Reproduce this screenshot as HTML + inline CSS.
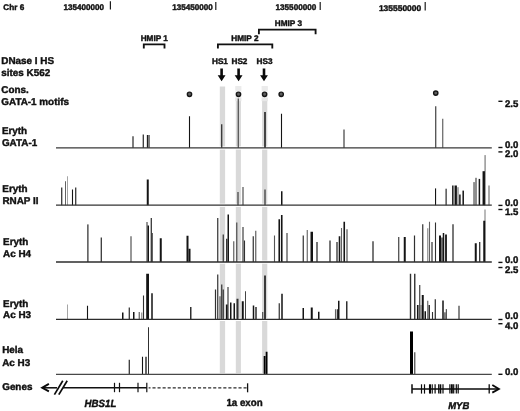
<!DOCTYPE html>
<html><head><meta charset="utf-8"><title>Figure</title>
<style>
html,body{margin:0;padding:0;background:#fff;}
body{width:520px;height:411px;overflow:hidden;font-family:"Liberation Sans",sans-serif;}
svg{display:block;filter:grayscale(1);}
text{text-rendering:geometricPrecision;}
</style></head><body>
<svg width="520" height="411" viewBox="0 0 520 411">
<rect width="520" height="411" fill="#fff"/>
<rect x="219.8" y="86.5" width="5.30" height="286.70" fill="#d9d9d9"/>
<rect x="219.3" y="146.4" width="6.30" height="3.2" fill="#fff"/>
<rect x="219.3" y="203.7" width="6.30" height="3.2" fill="#fff"/>
<rect x="219.3" y="260.5" width="6.30" height="3.2" fill="#fff"/>
<rect x="219.3" y="317.8" width="6.30" height="3.2" fill="#fff"/>
<rect x="235.8" y="86.5" width="5.10" height="286.70" fill="#d9d9d9"/>
<rect x="235.3" y="86.0" width="6.10" height="4.6" fill="#ebebeb"/>
<rect x="235.3" y="90.6" width="6.10" height="7.2" fill="#f6f6f6"/>
<rect x="235.3" y="97.8" width="6.10" height="3.4" fill="#e7e7e7"/>
<rect x="235.3" y="146.4" width="6.10" height="3.2" fill="#fff"/>
<rect x="235.3" y="203.7" width="6.10" height="3.2" fill="#fff"/>
<rect x="235.3" y="260.5" width="6.10" height="3.2" fill="#fff"/>
<rect x="235.3" y="317.8" width="6.10" height="3.2" fill="#fff"/>
<rect x="262.1" y="86.5" width="5.20" height="286.70" fill="#d9d9d9"/>
<rect x="261.6" y="86.0" width="6.20" height="4.6" fill="#ebebeb"/>
<rect x="261.6" y="90.6" width="6.20" height="7.2" fill="#f6f6f6"/>
<rect x="261.6" y="97.8" width="6.20" height="3.4" fill="#e7e7e7"/>
<rect x="261.6" y="146.4" width="6.20" height="3.2" fill="#fff"/>
<rect x="261.6" y="203.7" width="6.20" height="3.2" fill="#fff"/>
<rect x="261.6" y="260.5" width="6.20" height="3.2" fill="#fff"/>
<rect x="261.6" y="317.8" width="6.20" height="3.2" fill="#fff"/>
<line x1="110.4" y1="1.2" x2="110.4" y2="9.5" stroke="#1c1c1c" stroke-width="1.2"/>
<line x1="215.8" y1="2" x2="215.8" y2="10" stroke="#1c1c1c" stroke-width="1.2"/>
<line x1="320.2" y1="2" x2="320.2" y2="10" stroke="#1c1c1c" stroke-width="1.2"/>
<line x1="425.2" y1="2" x2="425.2" y2="10.5" stroke="#1c1c1c" stroke-width="1.2"/>
<text x="63.6" y="9.7" font-family="Liberation Sans, sans-serif" font-weight="bold" stroke="#111" stroke-width="0.42" stroke-linejoin="round" font-size="8.2" fill="#111" textLength="40.4" lengthAdjust="spacingAndGlyphs">135400000</text>
<text x="172.3" y="10.4" font-family="Liberation Sans, sans-serif" font-weight="bold" stroke="#111" stroke-width="0.42" stroke-linejoin="round" font-size="8.2" fill="#111" textLength="40.5" lengthAdjust="spacingAndGlyphs">135450000</text>
<text x="275.5" y="10.3" font-family="Liberation Sans, sans-serif" font-weight="bold" stroke="#111" stroke-width="0.42" stroke-linejoin="round" font-size="8.2" fill="#111" textLength="40.8" lengthAdjust="spacingAndGlyphs">135500000</text>
<text x="378.9" y="10.7" font-family="Liberation Sans, sans-serif" font-weight="bold" stroke="#111" stroke-width="0.42" stroke-linejoin="round" font-size="8.2" fill="#111" textLength="42.3" lengthAdjust="spacingAndGlyphs">135550000</text>
<text x="3.3" y="9.8" font-family="Liberation Sans, sans-serif" font-weight="bold" stroke="#111" stroke-width="0.42" stroke-linejoin="round" font-size="8.2" fill="#111">Chr 6</text>
<path d="M143.8 48.4 V44.4 H164.5 V48.4" fill="none" stroke="#111" stroke-width="1.85"/>
<path d="M217.9 48.4 V44.4 H272.3 V48.4" fill="none" stroke="#111" stroke-width="1.85"/>
<path d="M258.9 34.2 V29.6 H315.6 V34.2" fill="none" stroke="#111" stroke-width="1.85"/>
<text x="140.7" y="40.7" font-family="Liberation Sans, sans-serif" font-weight="bold" stroke="#111" stroke-width="0.42" stroke-linejoin="round" font-size="8.2" fill="#111">HMIP 1</text>
<text x="231.3" y="40.5" font-family="Liberation Sans, sans-serif" font-weight="bold" stroke="#111" stroke-width="0.42" stroke-linejoin="round" font-size="8.2" fill="#111">HMIP 2</text>
<text x="274.8" y="25.6" font-family="Liberation Sans, sans-serif" font-weight="bold" stroke="#111" stroke-width="0.42" stroke-linejoin="round" font-size="8.2" fill="#111">HMIP 3</text>
<text x="212" y="63.6" font-family="Liberation Sans, sans-serif" font-weight="bold" stroke="#111" stroke-width="0.42" stroke-linejoin="round" font-size="8.2" fill="#111">HS1</text>
<text x="231.5" y="63.6" font-family="Liberation Sans, sans-serif" font-weight="bold" stroke="#111" stroke-width="0.42" stroke-linejoin="round" font-size="8.2" fill="#111">HS2</text>
<text x="256.6" y="64.3" font-family="Liberation Sans, sans-serif" font-weight="bold" stroke="#111" stroke-width="0.42" stroke-linejoin="round" font-size="8.2" fill="#111">HS3</text>
<path d="M220.29999999999998 68.6 H222.9 V75.2 H225.5 L221.6 81.2 L217.7 75.2 H220.29999999999998 Z" fill="#0a0a0a"/>
<path d="M237.29999999999998 68.6 H239.9 V75.2 H242.5 L238.6 81.2 L234.7 75.2 H237.29999999999998 Z" fill="#0a0a0a"/>
<path d="M262.7 68.6 H265.3 V75.2 H267.9 L264.0 81.2 L260.1 75.2 H262.7 Z" fill="#0a0a0a"/>
<text transform="translate(1.3,64) scale(1,1)" font-family="Liberation Sans, sans-serif" font-weight="bold" stroke="#111" stroke-width="0.42" stroke-linejoin="round" font-size="9.9" fill="#111">DNase I HS</text>
<text transform="translate(1.3,75.6) scale(1,1)" font-family="Liberation Sans, sans-serif" font-weight="bold" stroke="#111" stroke-width="0.42" stroke-linejoin="round" font-size="9.9" fill="#111">sites K562</text>
<text transform="translate(1.3,93) scale(1,1)" font-family="Liberation Sans, sans-serif" font-weight="bold" stroke="#111" stroke-width="0.42" stroke-linejoin="round" font-size="9.9" fill="#111">Cons.</text>
<text transform="translate(1.3,105) scale(1,1)" font-family="Liberation Sans, sans-serif" font-weight="bold" stroke="#111" stroke-width="0.42" stroke-linejoin="round" font-size="9.9" fill="#111">GATA-1 motifs</text>
<text transform="translate(1.9,133.8) scale(1,1)" font-family="Liberation Sans, sans-serif" font-weight="bold" stroke="#111" stroke-width="0.42" stroke-linejoin="round" font-size="9.9" fill="#111">Eryth</text>
<text transform="translate(1.9,145.6) scale(1,1)" font-family="Liberation Sans, sans-serif" font-weight="bold" stroke="#111" stroke-width="0.42" stroke-linejoin="round" font-size="9.9" fill="#111">GATA-1</text>
<text transform="translate(2.3,191.5) scale(1,1)" font-family="Liberation Sans, sans-serif" font-weight="bold" stroke="#111" stroke-width="0.42" stroke-linejoin="round" font-size="9.9" fill="#111">Eryth</text>
<text transform="translate(2.4,203.8) scale(1,1)" font-family="Liberation Sans, sans-serif" font-weight="bold" stroke="#111" stroke-width="0.42" stroke-linejoin="round" font-size="9.9" fill="#111">RNAP II</text>
<text transform="translate(3.1,245) scale(1,1)" font-family="Liberation Sans, sans-serif" font-weight="bold" stroke="#111" stroke-width="0.42" stroke-linejoin="round" font-size="9.9" fill="#111">Eryth</text>
<text transform="translate(3.1,257) scale(1,1)" font-family="Liberation Sans, sans-serif" font-weight="bold" stroke="#111" stroke-width="0.42" stroke-linejoin="round" font-size="9.9" fill="#111">Ac H4</text>
<text transform="translate(3.1,306.8) scale(1,1)" font-family="Liberation Sans, sans-serif" font-weight="bold" stroke="#111" stroke-width="0.42" stroke-linejoin="round" font-size="9.9" fill="#111">Eryth</text>
<text transform="translate(3.1,318.4) scale(1,1)" font-family="Liberation Sans, sans-serif" font-weight="bold" stroke="#111" stroke-width="0.42" stroke-linejoin="round" font-size="9.9" fill="#111">Ac H3</text>
<text transform="translate(2.2,353.4) scale(1,1)" font-family="Liberation Sans, sans-serif" font-weight="bold" stroke="#111" stroke-width="0.42" stroke-linejoin="round" font-size="9.9" fill="#111">Hela</text>
<text transform="translate(2.2,366) scale(1,1)" font-family="Liberation Sans, sans-serif" font-weight="bold" stroke="#111" stroke-width="0.42" stroke-linejoin="round" font-size="9.9" fill="#111">Ac H3</text>
<text transform="translate(2.2,389.8) scale(1,1)" font-family="Liberation Sans, sans-serif" font-weight="bold" stroke="#111" stroke-width="0.42" stroke-linejoin="round" font-size="9.9" fill="#111">Genes</text>
<rect x="132.45" y="136.25" width="1.1" height="11.65" fill="#141414"/>
<rect x="142.70" y="134.5" width="1.1" height="13.40" fill="#141414"/>
<rect x="146.85" y="135" width="1.1" height="12.90" fill="#141414"/>
<rect x="148.45" y="135" width="1.1" height="12.90" fill="#141414"/>
<rect x="188.95" y="116.25" width="1.1" height="31.65" fill="#141414"/>
<rect x="221.20" y="124.25" width="1.1" height="23.65" fill="#141414"/>
<rect x="237.65" y="98.5" width="1.3" height="49.40" fill="#555"/>
<rect x="264.25" y="112" width="1.5" height="35.90" fill="#141414"/>
<rect x="280.95" y="113.75" width="1.1" height="34.15" fill="#141414"/>
<rect x="343.45" y="129.5" width="1.1" height="18.40" fill="#303030"/>
<rect x="435.20" y="106.25" width="1.1" height="41.65" fill="#303030"/>
<rect x="442.20" y="118.75" width="1.1" height="29.15" fill="#555"/>
<line x1="56" y1="147.9" x2="491.8" y2="147.9" stroke="#383838" stroke-width="1.35"/>
<rect x="61.20" y="187.5" width="1.1" height="17.70" fill="#141414"/>
<rect x="65.00" y="181.25" width="1" height="23.95" fill="#626262"/>
<rect x="67.10" y="176.25" width="0.8" height="28.95" fill="#8e8e8e"/>
<rect x="71.95" y="189.5" width="1.1" height="15.70" fill="#141414"/>
<rect x="75.20" y="187.5" width="1.1" height="17.70" fill="#141414"/>
<rect x="146.75" y="179.5" width="2" height="25.70" fill="#141414"/>
<rect x="237.45" y="192" width="1.1" height="13.20" fill="#303030"/>
<rect x="242.50" y="187" width="1.0" height="18.20" fill="#303030"/>
<rect x="264.40" y="189.5" width="1.2" height="15.70" fill="#303030"/>
<rect x="281.00" y="191.25" width="1.5" height="13.95" fill="#141414"/>
<rect x="435.00" y="188.4" width="1.1" height="16.80" fill="#141414"/>
<rect x="445.55" y="188.7" width="1.1" height="16.50" fill="#141414"/>
<rect x="452.10" y="185.5" width="1" height="19.70" fill="#141414"/>
<rect x="453.20" y="185.5" width="1.4" height="19.70" fill="#626262"/>
<rect x="454.90" y="185.5" width="2" height="19.70" fill="#141414"/>
<rect x="457.50" y="187.2" width="1" height="18.00" fill="#626262"/>
<rect x="459.15" y="194.5" width="1.5" height="10.70" fill="#141414"/>
<rect x="462.45" y="190.6" width="1.5" height="14.60" fill="#141414"/>
<rect x="473.10" y="182.1" width="2" height="23.10" fill="#8e8e8e"/>
<rect x="475.30" y="177.8" width="1.4" height="27.40" fill="#626262"/>
<rect x="478.65" y="178.9" width="1.5" height="26.30" fill="#141414"/>
<rect x="484.40" y="155.1" width="1.4" height="50.10" fill="#8e8e8e"/>
<rect x="482.55" y="171.2" width="2.4" height="34.00" fill="#141414"/>
<rect x="488.25" y="185.5" width="1.5" height="19.70" fill="#8e8e8e"/>
<line x1="56" y1="205.2" x2="491.8" y2="205.2" stroke="#333" stroke-width="1.25"/>
<rect x="87.35" y="224.4" width="1.1" height="37.60" fill="#141414"/>
<rect x="100.70" y="237.5" width="1.1" height="24.50" fill="#141414"/>
<rect x="130.35" y="236.25" width="1.3" height="25.75" fill="#626262"/>
<rect x="146.50" y="222" width="1" height="40.00" fill="#303030"/>
<rect x="147.50" y="225.5" width="1.5" height="36.50" fill="#141414"/>
<rect x="150.70" y="218" width="1.1" height="44.00" fill="#141414"/>
<rect x="151.75" y="233" width="1" height="29.00" fill="#303030"/>
<rect x="159.75" y="238.25" width="2" height="23.75" fill="#141414"/>
<rect x="186.50" y="235.75" width="2" height="26.25" fill="#141414"/>
<rect x="188.50" y="248.75" width="2" height="13.25" fill="#141414"/>
<rect x="217.15" y="218" width="1.2" height="44.00" fill="#303030"/>
<rect x="222.65" y="234.5" width="1.2" height="27.50" fill="#303030"/>
<rect x="226.15" y="238.75" width="1.2" height="23.25" fill="#141414"/>
<rect x="227.50" y="214.5" width="1.5" height="47.50" fill="#141414"/>
<rect x="233.15" y="241.25" width="1.2" height="20.75" fill="#626262"/>
<rect x="236.10" y="222.5" width="1.3" height="39.50" fill="#555"/>
<rect x="242.45" y="227" width="1.1" height="35.00" fill="#303030"/>
<rect x="243.95" y="240.5" width="1.1" height="21.50" fill="#303030"/>
<rect x="252.65" y="236.25" width="1.2" height="25.75" fill="#303030"/>
<rect x="255.15" y="230.75" width="1.2" height="31.25" fill="#626262"/>
<rect x="273.95" y="235.5" width="1.1" height="26.50" fill="#555"/>
<rect x="278.45" y="219.25" width="1.6" height="42.75" fill="#141414"/>
<rect x="280.95" y="215" width="1.6" height="47.00" fill="#141414"/>
<rect x="286.35" y="233" width="1.3" height="29.00" fill="#555"/>
<rect x="302.65" y="235.5" width="1.2" height="26.50" fill="#303030"/>
<rect x="306.70" y="230" width="1.1" height="32.00" fill="#626262"/>
<rect x="310.50" y="231.75" width="2.5" height="30.25" fill="#141414"/>
<rect x="316.35" y="242" width="1.3" height="20.00" fill="#303030"/>
<rect x="329.35" y="240.5" width="1.3" height="21.50" fill="#303030"/>
<rect x="336.35" y="242" width="1.3" height="20.00" fill="#303030"/>
<rect x="338.70" y="236.25" width="1.6" height="25.75" fill="#141414"/>
<rect x="340.95" y="228" width="1.1" height="34.00" fill="#626262"/>
<rect x="343.45" y="221.75" width="1.6" height="40.25" fill="#141414"/>
<rect x="346.35" y="229.25" width="1.3" height="32.75" fill="#626262"/>
<rect x="372.35" y="241.25" width="1.3" height="20.75" fill="#303030"/>
<rect x="398.20" y="237" width="1.1" height="25.00" fill="#303030"/>
<rect x="403.75" y="237" width="2" height="25.00" fill="#141414"/>
<rect x="413.90" y="235.5" width="1.2" height="26.50" fill="#303030"/>
<rect x="422.15" y="224.25" width="1.2" height="37.75" fill="#303030"/>
<rect x="427.15" y="228.25" width="1.2" height="33.75" fill="#8e8e8e"/>
<rect x="428.95" y="221.75" width="1.1" height="40.25" fill="#626262"/>
<rect x="431.40" y="242" width="1.2" height="20.00" fill="#303030"/>
<rect x="434.95" y="222.5" width="1.1" height="39.50" fill="#303030"/>
<rect x="439.00" y="235.5" width="2" height="26.50" fill="#141414"/>
<rect x="441.40" y="237.5" width="1.2" height="24.50" fill="#141414"/>
<rect x="442.75" y="233" width="1.5" height="29.00" fill="#141414"/>
<rect x="445.10" y="234.5" width="1.8" height="27.50" fill="#141414"/>
<rect x="452.35" y="224.25" width="1.3" height="37.75" fill="#303030"/>
<rect x="474.75" y="243.25" width="2" height="18.75" fill="#141414"/>
<rect x="479.05" y="242" width="1.3" height="20.00" fill="#303030"/>
<rect x="484.40" y="209.5" width="1.2" height="52.50" fill="#8e8e8e"/>
<rect x="483.25" y="220.75" width="2" height="41.25" fill="#141414"/>
<line x1="56" y1="262.0" x2="491.8" y2="262.0" stroke="#2c2c2c" stroke-width="1.3"/>
<rect x="67.10" y="304.5" width="0.8" height="14.80" fill="#8e8e8e"/>
<rect x="86.95" y="305.75" width="1.1" height="13.55" fill="#141414"/>
<rect x="122.00" y="312.5" width="1.5" height="6.80" fill="#141414"/>
<rect x="128.70" y="307.5" width="1.1" height="11.80" fill="#141414"/>
<rect x="133.00" y="312" width="1.5" height="7.30" fill="#141414"/>
<rect x="138.65" y="312" width="1.2" height="7.30" fill="#626262"/>
<rect x="141.15" y="312.5" width="1.2" height="6.80" fill="#8e8e8e"/>
<rect x="142.95" y="295.5" width="1.1" height="23.80" fill="#303030"/>
<rect x="146.20" y="273.75" width="2.8" height="45.55" fill="#141414"/>
<rect x="151.25" y="293.25" width="1.5" height="26.05" fill="#141414"/>
<rect x="190.00" y="307" width="1.5" height="12.30" fill="#303030"/>
<rect x="214.90" y="289.5" width="1.2" height="29.80" fill="#303030"/>
<rect x="217.15" y="274.5" width="1.2" height="44.80" fill="#303030"/>
<rect x="219.40" y="296.25" width="1.2" height="23.05" fill="#555"/>
<rect x="221.15" y="284.5" width="1.2" height="34.80" fill="#303030"/>
<rect x="222.65" y="289.5" width="1.2" height="29.80" fill="#303030"/>
<rect x="225.85" y="304.5" width="1.8" height="14.80" fill="#141414"/>
<rect x="227.45" y="287" width="1.1" height="32.30" fill="#303030"/>
<rect x="230.00" y="302.5" width="1.5" height="16.80" fill="#141414"/>
<rect x="233.50" y="303.25" width="1.5" height="16.05" fill="#141414"/>
<rect x="236.50" y="298.75" width="2" height="20.55" fill="#303030"/>
<rect x="241.75" y="301.25" width="2" height="18.05" fill="#141414"/>
<rect x="245.05" y="291.25" width="0.9" height="28.05" fill="#303030"/>
<rect x="252.75" y="305.5" width="1.5" height="13.80" fill="#141414"/>
<rect x="255.25" y="307" width="1.5" height="12.30" fill="#303030"/>
<rect x="262.25" y="312" width="1" height="7.30" fill="#303030"/>
<rect x="264.20" y="275.5" width="1.6" height="43.80" fill="#141414"/>
<rect x="278.65" y="303.25" width="1.2" height="16.05" fill="#303030"/>
<rect x="281.25" y="293.75" width="1.5" height="25.55" fill="#141414"/>
<rect x="302.50" y="308" width="1.5" height="11.30" fill="#141414"/>
<rect x="310.75" y="307.5" width="2" height="11.80" fill="#141414"/>
<rect x="318.00" y="311.75" width="1.5" height="7.55" fill="#141414"/>
<rect x="334.95" y="309.25" width="1.1" height="10.05" fill="#626262"/>
<rect x="336.75" y="309.25" width="1.5" height="10.05" fill="#303030"/>
<rect x="338.00" y="300.75" width="1.5" height="18.55" fill="#141414"/>
<rect x="346.00" y="301.25" width="1.5" height="18.05" fill="#303030"/>
<rect x="409.80" y="273.75" width="1.4" height="45.55" fill="#303030"/>
<rect x="414.05" y="273.75" width="1.4" height="45.55" fill="#303030"/>
<rect x="416.95" y="305" width="1.6" height="14.30" fill="#141414"/>
<rect x="419.20" y="285" width="1.1" height="34.30" fill="#303030"/>
<rect x="420.50" y="305" width="1" height="14.30" fill="#626262"/>
<rect x="421.75" y="295" width="2" height="24.30" fill="#141414"/>
<rect x="424.50" y="311.25" width="1.5" height="8.05" fill="#141414"/>
<rect x="427.20" y="300.75" width="1.1" height="18.55" fill="#626262"/>
<rect x="428.50" y="305" width="1.5" height="14.30" fill="#303030"/>
<rect x="431.95" y="312" width="1.1" height="7.30" fill="#303030"/>
<rect x="434.70" y="299.25" width="1.1" height="20.05" fill="#141414"/>
<rect x="442.25" y="300.5" width="1.5" height="18.80" fill="#141414"/>
<rect x="444.45" y="312.3" width="1.0" height="7.00" fill="#141414"/>
<rect x="445.80" y="309.1" width="1.0" height="10.20" fill="#303030"/>
<rect x="458.25" y="305.75" width="1.5" height="13.55" fill="#626262"/>
<line x1="56" y1="319.3" x2="491.8" y2="319.3" stroke="#2c2c2c" stroke-width="1.3"/>
<rect x="128.70" y="359.75" width="1.1" height="14.65" fill="#141414"/>
<rect x="141.95" y="356.75" width="1.1" height="17.65" fill="#141414"/>
<rect x="145.35" y="356.75" width="1.3" height="17.65" fill="#141414"/>
<rect x="148.00" y="327.25" width="1" height="47.15" fill="#303030"/>
<rect x="263.70" y="356" width="1.8" height="18.40" fill="#000"/>
<rect x="265.70" y="351.75" width="1.8" height="22.65" fill="#000"/>
<rect x="410.00" y="331.5" width="3" height="42.90" fill="#000"/>
<rect x="414.10" y="352.25" width="1.3" height="22.15" fill="#555"/>
<line x1="56" y1="374.4" x2="491.8" y2="374.4" stroke="#484848" stroke-width="1.2"/>
<circle cx="189.5" cy="94.3" r="2.15" fill="#5e5e5e" stroke="#161616" stroke-width="1.4"/>
<circle cx="238.5" cy="94.3" r="2.15" fill="#5e5e5e" stroke="#161616" stroke-width="1.4"/>
<circle cx="264.6" cy="94.3" r="2.15" fill="#5e5e5e" stroke="#161616" stroke-width="1.4"/>
<circle cx="281.2" cy="94.3" r="2.15" fill="#5e5e5e" stroke="#161616" stroke-width="1.4"/>
<circle cx="435.75" cy="93.1" r="2.15" fill="#5e5e5e" stroke="#161616" stroke-width="1.4"/>
<text x="505" y="106.8" font-family="Liberation Sans, sans-serif" font-weight="bold" stroke="#111" stroke-width="0.42" stroke-linejoin="round" font-size="9.6" fill="#111">2.5</text>
<line x1="498.4" y1="101.3" x2="502.5" y2="101.3" stroke="#111" stroke-width="1.4"/>
<text x="505" y="148" font-family="Liberation Sans, sans-serif" font-weight="bold" stroke="#111" stroke-width="0.42" stroke-linejoin="round" font-size="9.6" fill="#111">0.0</text>
<line x1="498.4" y1="147.5" x2="502.5" y2="147.5" stroke="#111" stroke-width="1.4"/>
<text x="505" y="157" font-family="Liberation Sans, sans-serif" font-weight="bold" stroke="#111" stroke-width="0.42" stroke-linejoin="round" font-size="9.6" fill="#111">2.0</text>
<line x1="498.4" y1="151.9" x2="502.5" y2="151.9" stroke="#111" stroke-width="1.4"/>
<text x="505" y="205.6" font-family="Liberation Sans, sans-serif" font-weight="bold" stroke="#111" stroke-width="0.42" stroke-linejoin="round" font-size="9.6" fill="#111">0.0</text>
<line x1="498.4" y1="205.4" x2="502.5" y2="205.4" stroke="#111" stroke-width="1.4"/>
<text x="505" y="215.4" font-family="Liberation Sans, sans-serif" font-weight="bold" stroke="#111" stroke-width="0.42" stroke-linejoin="round" font-size="9.6" fill="#111">1.5</text>
<line x1="498.4" y1="209.5" x2="502.5" y2="209.5" stroke="#111" stroke-width="1.4"/>
<text x="505" y="263" font-family="Liberation Sans, sans-serif" font-weight="bold" stroke="#111" stroke-width="0.42" stroke-linejoin="round" font-size="9.6" fill="#111">0.0</text>
<line x1="498.4" y1="262.4" x2="502.5" y2="262.4" stroke="#111" stroke-width="1.4"/>
<text x="505" y="273" font-family="Liberation Sans, sans-serif" font-weight="bold" stroke="#111" stroke-width="0.42" stroke-linejoin="round" font-size="9.6" fill="#111">2.5</text>
<line x1="498.4" y1="267.5" x2="502.5" y2="267.5" stroke="#111" stroke-width="1.4"/>
<text x="505" y="319.4" font-family="Liberation Sans, sans-serif" font-weight="bold" stroke="#111" stroke-width="0.42" stroke-linejoin="round" font-size="9.6" fill="#111">0.0</text>
<line x1="498.4" y1="319.5" x2="502.5" y2="319.5" stroke="#111" stroke-width="1.4"/>
<text x="505" y="329.3" font-family="Liberation Sans, sans-serif" font-weight="bold" stroke="#111" stroke-width="0.42" stroke-linejoin="round" font-size="9.6" fill="#111">4.0</text>
<line x1="498.4" y1="323.7" x2="502.5" y2="323.7" stroke="#111" stroke-width="1.4"/>
<text x="505" y="374.8" font-family="Liberation Sans, sans-serif" font-weight="bold" stroke="#111" stroke-width="0.42" stroke-linejoin="round" font-size="9.6" fill="#111">0.0</text>
<line x1="498.4" y1="374.3" x2="502.5" y2="374.3" stroke="#111" stroke-width="1.4"/>
<line x1="42.5" y1="387.8" x2="57" y2="387.8" stroke="#0a0a0a" stroke-width="1.5"/>
<path d="M48.9 383.9 L42.2 387.8 L48.9 391.3" fill="none" stroke="#0a0a0a" stroke-width="1.9" stroke-linejoin="miter"/>
<line x1="54.4" y1="394.6" x2="62.8" y2="380.7" stroke="#0a0a0a" stroke-width="1.7"/>
<line x1="58.8" y1="394.6" x2="67.2" y2="380.7" stroke="#0a0a0a" stroke-width="1.7"/>
<line x1="63" y1="387.8" x2="146.8" y2="387.8" stroke="#111" stroke-width="1.4"/>
<line x1="114.5" y1="382.8" x2="114.5" y2="392.2" stroke="#111" stroke-width="1.2"/>
<line x1="119.5" y1="382.8" x2="119.5" y2="392.2" stroke="#111" stroke-width="1.2"/>
<line x1="138" y1="382.8" x2="138" y2="392.2" stroke="#111" stroke-width="1.2"/>
<line x1="146.8" y1="382.8" x2="146.8" y2="392.2" stroke="#111" stroke-width="1.2"/>
<line x1="148.6" y1="387.8" x2="246.6" y2="387.8" stroke="#2a2a2a" stroke-width="1.2" stroke-dasharray="3.1 1.96" stroke-dashoffset="1.2"/>
<line x1="247.6" y1="383.3" x2="247.6" y2="392.3" stroke="#111" stroke-width="1.3"/>
<text transform="translate(84.6,406.7) scale(0.93,1)" font-family="Liberation Sans, sans-serif" font-weight="bold" stroke="#111" stroke-width="0.42" stroke-linejoin="round" font-style="italic" font-size="10.4" fill="#111">HBS1L</text>
<text transform="translate(226.4,406.1) scale(0.955,1)" font-family="Liberation Sans, sans-serif" font-weight="bold" stroke="#111" stroke-width="0.42" stroke-linejoin="round" font-size="10.2" fill="#111">1a exon</text>
<line x1="412" y1="389.0" x2="498.3" y2="389.0" stroke="#0a0a0a" stroke-width="1.5"/>
<path d="M492.3 385.1 L498.9 389.0 L492.3 392.6" fill="none" stroke="#0a0a0a" stroke-width="1.8"/>
<line x1="412" y1="384.3" x2="412" y2="393.6" stroke="#0a0a0a" stroke-width="1.5"/>
<line x1="421.5" y1="384.3" x2="421.5" y2="393.6" stroke="#0a0a0a" stroke-width="1.2"/>
<line x1="424.5" y1="384.3" x2="424.5" y2="393.6" stroke="#0a0a0a" stroke-width="1.2"/>
<line x1="430.1" y1="384.3" x2="430.1" y2="393.6" stroke="#0a0a0a" stroke-width="2.3"/>
<line x1="432.4" y1="384.3" x2="432.4" y2="393.6" stroke="#0a0a0a" stroke-width="0.9"/>
<line x1="435.1" y1="384.3" x2="435.1" y2="393.6" stroke="#0a0a0a" stroke-width="1.2"/>
<line x1="438.75" y1="384.3" x2="438.75" y2="393.6" stroke="#0a0a0a" stroke-width="1.3"/>
<line x1="440.5" y1="384.3" x2="440.5" y2="393.6" stroke="#0a0a0a" stroke-width="1.6"/>
<line x1="443" y1="384.3" x2="443" y2="393.6" stroke="#0a0a0a" stroke-width="1.2"/>
<line x1="449.9" y1="384.3" x2="449.9" y2="393.6" stroke="#0a0a0a" stroke-width="1.2"/>
<line x1="451.9" y1="384.3" x2="451.9" y2="393.6" stroke="#0a0a0a" stroke-width="1.8"/>
<line x1="453.7" y1="384.3" x2="453.7" y2="393.6" stroke="#0a0a0a" stroke-width="1.2"/>
<line x1="456.3" y1="384.3" x2="456.3" y2="393.6" stroke="#0a0a0a" stroke-width="1.2"/>
<line x1="458.2" y1="384.3" x2="458.2" y2="393.6" stroke="#0a0a0a" stroke-width="1.2"/>
<line x1="489.2" y1="384.3" x2="489.2" y2="393.6" stroke="#0a0a0a" stroke-width="1.3"/>
<text transform="translate(448.2,409.4) scale(0.95,1)" font-family="Liberation Sans, sans-serif" font-weight="bold" stroke="#111" stroke-width="0.42" stroke-linejoin="round" font-style="italic" font-size="10" fill="#111">MYB</text>
</svg>
</body></html>
